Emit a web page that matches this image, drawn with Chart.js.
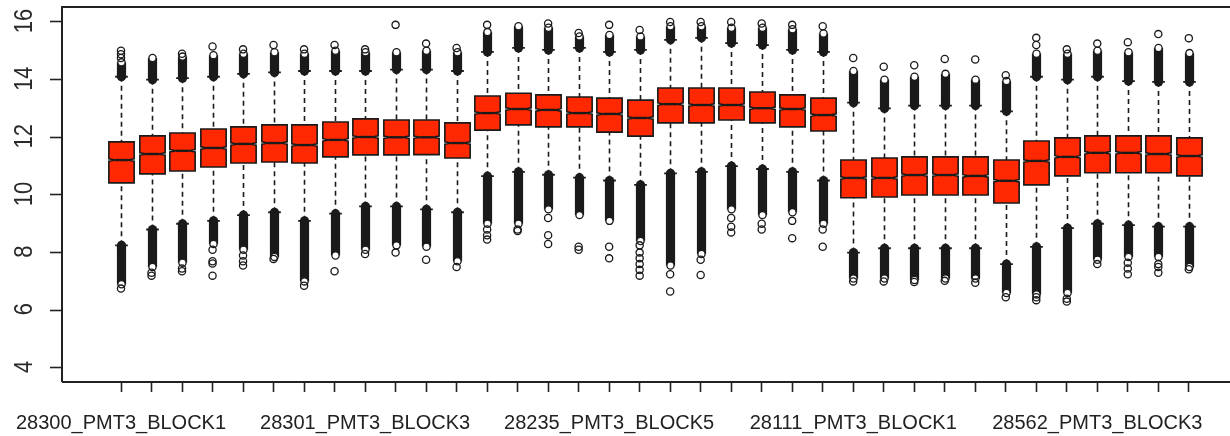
<!DOCTYPE html>
<html>
<head>
<meta charset="utf-8">
<script src="https://cdn.jsdelivr.net/npm/chart.js@4/dist/chart.umd.min.js"></script>
<style>
  html, body { margin: 0; padding: 0; background: #fff; overflow: hidden; }
  #wrap { width: 1230px; height: 436px; overflow: hidden; }
  canvas { display: block; }
</style>
</head>
<body>
<div id="wrap"><canvas id="c" width="1260" height="436"></canvas></div>
<script>
// Per-array intensity summaries (log2), one entry per chip block
const tickLabels = [
  '28300_PMT3_BLOCK1', '', '', '', '', '', '', '',
  '28301_PMT3_BLOCK3', '', '', '', '', '', '', '',
  '28235_PMT3_BLOCK5', '', '', '', '', '', '', '',
  '28111_PMT3_BLOCK1', '', '', '', '', '', '', '',
  '28562_PMT3_BLOCK3', '', '', ''
];
const yTickValues = [4, 6, 8, 10, 12, 14, 16];

const q3 = [11.84, 12.05, 12.15, 12.29, 12.36, 12.43, 12.43, 12.53, 12.64, 12.60, 12.60, 12.50,
            13.43, 13.53, 13.47, 13.40, 13.36, 13.29, 13.71, 13.71, 13.71, 13.57, 13.47, 13.36,
            11.21, 11.28, 11.32, 11.32, 11.32, 11.21, 11.87, 11.98, 12.05, 12.05, 12.05, 11.98];
const medians = [11.21, 11.42, 11.53, 11.63, 11.77, 11.80, 11.73, 11.91, 12.01, 12.00, 12.00, 11.80,
            12.84, 12.98, 12.95, 12.84, 12.81, 12.67, 13.15, 13.12, 13.12, 13.01, 12.98, 12.77,
            10.59, 10.59, 10.69, 10.69, 10.66, 10.49, 11.18, 11.32, 11.46, 11.46, 11.42, 11.35];
const q1 = [10.42, 10.73, 10.83, 10.97, 11.11, 11.14, 11.11, 11.32, 11.39, 11.39, 11.40, 11.28,
            12.25, 12.43, 12.36, 12.36, 12.18, 12.04, 12.50, 12.50, 12.60, 12.50, 12.36, 12.22,
            9.90, 9.93, 10.00, 10.00, 10.00, 9.72, 10.35, 10.66, 10.77, 10.77, 10.77, 10.66];
const whiskerHi = [14.10, 14.00, 14.05, 14.10, 14.20, 14.25, 14.30, 14.30, 14.30, 14.35, 14.35, 14.30,
            14.96, 15.10, 15.03, 15.10, 14.96, 15.03, 15.38, 15.45, 15.27, 15.20, 15.03, 14.96,
            13.20, 13.00, 13.10, 13.10, 13.10, 12.90, 14.10, 14.00, 14.10, 13.95, 13.92, 13.92];
const whiskerLo = [8.25, 8.80, 9.00, 9.10, 9.30, 9.40, 9.10, 9.35, 9.60, 9.60, 9.50, 9.40,
            10.65, 10.80, 10.70, 10.60, 10.50, 10.35, 10.75, 10.80, 11.00, 10.90, 10.80, 10.50,
            8.00, 8.15, 8.15, 8.15, 8.15, 7.60, 8.20, 8.85, 9.00, 8.95, 8.90, 8.90];
// extent of the densely packed outliers beyond each whisker
const denseHiTop = [14.60, 14.75, 14.80, 14.85, 14.90, 14.95, 14.90, 15.00, 14.95, 14.95, 15.00, 14.95,
            15.65, 15.85, 15.80, 15.50, 15.55, 15.50, 15.85, 15.85, 15.80, 15.80, 15.75, 15.60,
            14.30, 14.00, 14.10, 14.20, 14.00, 13.95, 14.90, 14.90, 15.00, 14.95, 15.10, 14.92];
const denseLoBottom = [6.90, 7.50, 7.65, 8.30, 8.10, 7.85, 7.00, 7.90, 8.10, 8.25, 8.20, 7.70,
            9.00, 9.00, 9.50, 9.30, 9.10, 8.40, 7.55, 7.95, 9.50, 9.30, 9.40, 9.00,
            7.10, 7.10, 7.05, 7.10, 7.10, 6.60, 6.55, 6.60, 7.75, 7.85, 7.85, 7.50];
// isolated outliers
const outliersHi = [[14.75, 14.88, 15.0], [], [14.9], [15.15], [15.05], [15.2], [15.05], [15.2], [15.05], [15.9], [15.25], [15.1],
            [15.9], [], [15.95], [15.62], [15.9], [15.72], [16.0], [16.0], [16.0], [15.95], [15.9], [15.85],
            [14.75], [14.45], [14.5], [14.72], [14.7], [14.15], [15.2, 15.45], [15.05], [15.25], [15.3], [15.58], [15.44]];
const outliersLo = [[6.75], [7.3, 7.2], [7.45, 7.35], [8.1, 7.7, 7.62, 7.2], [7.9, 7.7, 7.55], [7.78], [6.85], [7.35], [7.95], [8.0], [7.75], [7.5],
            [8.8, 8.6, 8.45], [8.8, 8.75], [9.2, 8.6, 8.3], [8.2, 8.1], [8.2, 7.8], [8.25, 8.0, 7.8, 7.6, 7.4, 7.2], [7.25, 6.65], [7.75, 7.22], [9.2, 8.9, 8.7], [9.0, 8.8], [9.1, 8.5], [8.8, 8.2],
            [7.0], [7.0], [6.98], [7.02], [7.2, 6.95], [6.45], [6.45, 6.35], [6.4, 6.3], [7.6], [7.65, 7.45, 7.25], [7.6, 7.5, 7.3], [7.42]];

const positions = tickLabels.map((_, i) => i + 1);
const outlierPoints = [];
positions.forEach((p, i) => {
  outliersHi[i].forEach(v => outlierPoints.push({ x: p, y: v }));
  outliersLo[i].forEach(v => outlierPoints.push({ x: p, y: v }));
});

const BOX_FILL = '#ff2800';
const INK = '#1a1a1a';
const BOX_WEX = 0.83;     // box width in category units
const STAPLE_FRAC = 0.5;  // staple width relative to the box
const NOTCH_FRAC = 0.5;
const PT_R = 3.6;
const FONT = '"Liberation Sans", Arial, sans-serif';

const boxPlugin = {
  id: 'notchedBoxes',
  beforeDatasetsDraw(chart) {
    const { ctx, scales: { x, y } } = chart;
    const unit = x.getPixelForValue(1) - x.getPixelForValue(0);
    const half = BOX_WEX * unit / 2;
    ctx.save();
    positions.forEach((p, i) => {
      const cx = Math.round(x.getPixelForValue(p)) + 0.5;
      const pHi = y.getPixelForValue(whiskerHi[i]);
      const pLo = y.getPixelForValue(whiskerLo[i]);
      const p3 = y.getPixelForValue(q3[i]);
      const pm = y.getPixelForValue(medians[i]);
      const p1 = y.getPixelForValue(q1[i]);

      // whiskers
      ctx.strokeStyle = INK;
      ctx.lineWidth = 1.6;
      ctx.setLineDash([5, 4]);
      ctx.beginPath();
      ctx.moveTo(cx, pHi); ctx.lineTo(cx, p3);
      ctx.moveTo(cx, pLo); ctx.lineTo(cx, p1);
      ctx.stroke();
      ctx.setLineDash([]);

      // staples
      const sw = half * STAPLE_FRAC;
      ctx.lineWidth = 1.8;
      ctx.beginPath();
      ctx.moveTo(cx - sw, pHi); ctx.lineTo(cx + sw, pHi);
      ctx.moveTo(cx - sw, pLo); ctx.lineTo(cx + sw, pLo);
      ctx.stroke();

      // notched box
      const n = 1.2;
      const nx = half * NOTCH_FRAC;
      ctx.beginPath();
      ctx.moveTo(cx - half, p1);
      ctx.lineTo(cx + half, p1);
      ctx.lineTo(cx + half, pm + n);
      ctx.lineTo(cx + nx, pm);
      ctx.lineTo(cx + half, pm - n);
      ctx.lineTo(cx + half, p3);
      ctx.lineTo(cx - half, p3);
      ctx.lineTo(cx - half, pm - n);
      ctx.lineTo(cx - nx, pm);
      ctx.lineTo(cx - half, pm + n);
      ctx.closePath();
      ctx.fillStyle = BOX_FILL;
      ctx.fill();
      ctx.lineWidth = 1.6;
      ctx.stroke();
      ctx.lineWidth = 2.4;
      ctx.beginPath();
      ctx.moveTo(cx - nx, pm); ctx.lineTo(cx + nx, pm);
      ctx.stroke();

      // densely packed outliers: overlapping circles merge into a solid column
      const bw = PT_R + 1;
      const topPx = y.getPixelForValue(denseHiTop[i]);
      const botPx = y.getPixelForValue(denseLoBottom[i]);
      ctx.fillStyle = INK;
      ctx.fillRect(cx - bw, topPx, 2 * bw, pHi - topPx);
      ctx.fillRect(cx - bw, pLo, 2 * bw, botPx - pLo);
      ctx.lineWidth = 1.3;
      [[topPx, pHi], [botPx, pLo]].forEach(([farEnd, nearEnd]) => {
        ctx.beginPath();
        ctx.arc(cx, nearEnd, bw, 0, Math.PI * 2);
        ctx.fill();
        ctx.beginPath();
        ctx.arc(cx, farEnd, PT_R, 0, Math.PI * 2);
        ctx.fillStyle = '#fff';
        ctx.fill();
        ctx.fillStyle = INK;
        ctx.stroke();
      });
    });
    ctx.restore();
  }
};

const framePlugin = {
  id: 'frame',
  afterDraw(chart) {
    const { ctx, chartArea: a, scales: { x, y } } = chart;
    ctx.save();
    ctx.strokeStyle = '#222';
    ctx.lineWidth = 2;
    ctx.beginPath();
    ctx.moveTo(a.left, a.bottom); ctx.lineTo(a.left, a.top);
    ctx.lineTo(a.right, a.top); ctx.lineTo(a.right, a.bottom);
    ctx.lineTo(a.left, a.bottom);
    ctx.stroke();

    // x tick labels (only the named ones are printed)
    ctx.fillStyle = '#222';
    ctx.font = '20px ' + FONT;
    ctx.textAlign = 'center';
    ctx.textBaseline = 'alphabetic';
    positions.forEach((p, i) => {
      if (tickLabels[i]) ctx.fillText(tickLabels[i], x.getPixelForValue(p), a.bottom + 47);
    });

    // y tick labels run parallel to the axis
    ctx.fillStyle = '#2a2a2a';
    ctx.font = '22px ' + FONT;
    ctx.textBaseline = 'middle';
    yTickValues.forEach(v => {
      ctx.save();
      ctx.translate(25, y.getPixelForValue(v) - 1);
      ctx.rotate(-Math.PI / 2);
      ctx.scale(1, 1.2);
      ctx.fillText(String(v), 0, 0);
      ctx.restore();
    });
    ctx.restore();
  }
};

new Chart(document.getElementById('c'), {
  type: 'scatter',
  data: {
    datasets: [{
      data: outlierPoints,
      pointStyle: 'circle',
      pointRadius: PT_R,
      pointHoverRadius: PT_R,
      pointBorderWidth: 1.3,
      borderColor: INK,
      backgroundColor: 'rgba(255,255,255,0)'
    }]
  },
  options: {
    responsive: false,
    animation: false,
    devicePixelRatio: 1,
    layout: { padding: { top: 7, right: 12, left: 0, bottom: 0 } },
    plugins: { legend: { display: false }, tooltip: { enabled: false } },
    events: [],
    scales: {
      x: {
        type: 'linear',
        min: -0.934,
        max: 37.94,
        afterBuildTicks: s => { s.ticks = positions.map(v => ({ value: v })); },
        afterFit: s => { s.height = 54; s.paddingLeft = 0; s.paddingRight = 0; },
        border: { display: false },
        grid: { drawOnChartArea: false, drawTicks: true, tickLength: 10, tickColor: '#222', tickWidth: 1.6 },
        ticks: { display: false }
      },
      y: {
        type: 'linear',
        min: 3.51,
        max: 16.52,
        afterBuildTicks: s => { s.ticks = yTickValues.map(v => ({ value: v })); },
        afterFit: s => { s.width = 62; },
        border: { display: false },
        grid: { drawOnChartArea: false, drawTicks: true, tickLength: 12, tickColor: '#222', tickWidth: 1.6 },
        ticks: { display: false }
      }
    }
  },
  plugins: [boxPlugin, framePlugin]
});
</script>
</body>
</html>
